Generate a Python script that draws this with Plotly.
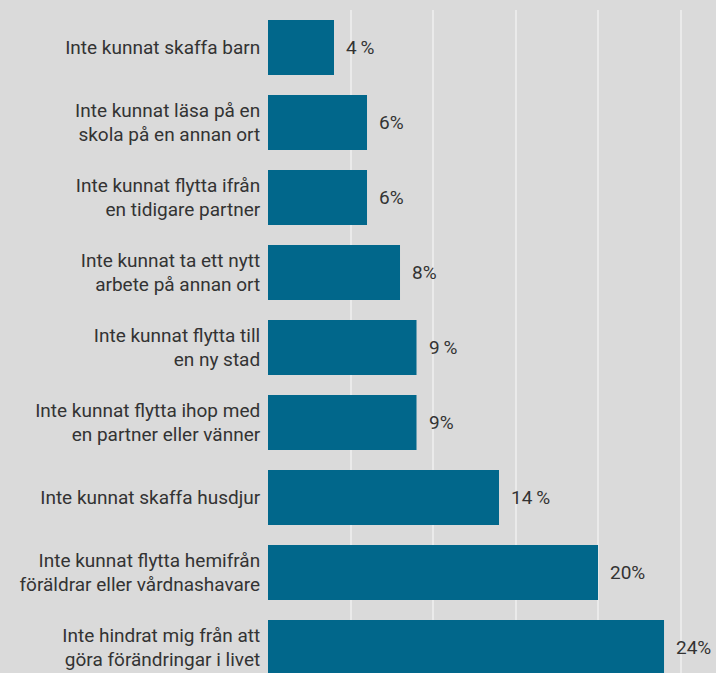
import plotly.graph_objects as go

categories = [
    "Inte kunnat skaffa barn",
    "Inte kunnat läsa på en<br>skola på en annan ort",
    "Inte kunnat flytta ifrån<br>en tidigare partner",
    "Inte kunnat ta ett nytt<br>arbete på annan ort",
    "Inte kunnat flytta till<br>en ny stad",
    "Inte kunnat flytta ihop med<br>en partner eller vänner",
    "Inte kunnat skaffa husdjur",
    "Inte kunnat flytta hemifrån<br>föräldrar eller vårdnashavare",
    "Inte hindrat mig från att<br>göra förändringar i livet",
]
values = [4, 6, 6, 8, 9, 9, 14, 20, 24]
value_labels = ["4\u2009%", "6%", "6%", "8%", "9\u2009%", "9%", "14\u2009%", "20%", "24%"]

BAR = "#01678B"
BG = "#DADADA"
TXT = "#333333"
FONT = "Roboto"

fig = go.Figure()
fig.add_trace(go.Bar(
    x=values, y=categories, orientation="h",
    marker=dict(color=BAR, line=dict(width=0)),
    width=0.733,
    hoverinfo="skip",
))

for c, v, t in zip(categories, values, value_labels):
    fig.add_annotation(x=v, y=c, text=t, showarrow=False, xanchor="left",
                       xshift=10, font=dict(family=FONT, size=19, color=TXT))

fig.update_layout(
    width=716, height=673,
    margin=dict(l=268, r=0, t=10, b=0),
    paper_bgcolor=BG, plot_bgcolor=BG,
    showlegend=False,
    xaxis=dict(range=[0, 27.15], dtick=5, showgrid=True, gridcolor="#EAEAEA",
               gridwidth=1.5, showticklabels=False, zeroline=False, showline=False,
               ticks=""),
    yaxis=dict(range=[8.34, -0.5], showgrid=False, zeroline=False, showline=False,
               ticks="outside", ticklen=3, tickcolor=BG,
               tickfont=dict(family=FONT, size=19, color=TXT)),
)

fig.write_html("out.html")
